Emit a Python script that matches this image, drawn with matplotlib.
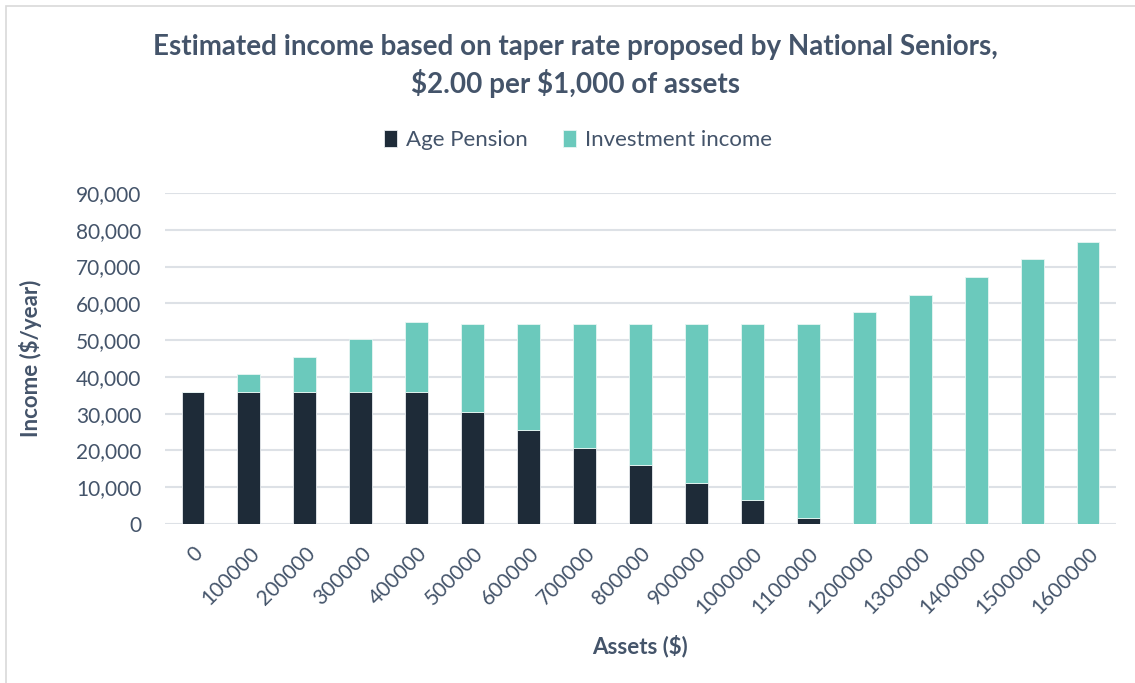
import matplotlib.pyplot as plt
from matplotlib.patches import Rectangle

plt.rcParams['font.family'] = ['Lato', 'DejaVu Sans']

assets = ['0', '100000', '200000', '300000', '400000', '500000', '600000', '700000',
          '800000', '900000', '1000000', '1100000', '1200000', '1300000', '1400000',
          '1500000', '1600000']
age_pension = [35850, 35850, 35850, 35850, 35850, 30400, 25600, 20800,
               16000, 11200, 6400, 1600, 0, 0, 0, 0, 0]
investment = [0, 4800, 9600, 14400, 19200, 24000, 28800, 33600,
              38400, 43200, 48000, 52800, 57600, 62400, 67200, 72000, 76800]
yticks = [0, 10000, 20000, 30000, 40000, 50000, 60000, 70000, 80000, 90000]

txt = '#44546A'
navy = '#1E2B38'
teal = '#6BC9BC'

W, H = 1135, 683
fig = plt.figure(figsize=(W / 100, H / 100), dpi=100)
fig.patches.append(Rectangle((6 / W, -0.01), 1.02, 1 - 6 / H + 0.01, transform=fig.transFigure,
                             fill=False, edgecolor='#D9D9D9', linewidth=1.2))

ax = fig.add_axes([165 / W, 1 - 524 / H, (1116 - 165) / W, (524 - 193) / H])
x = range(len(assets))
ax.bar(x, age_pension, width=0.41, color=navy, edgecolor='#E8ECEF', linewidth=0.6,
       label='Age Pension', zorder=3)
ax.bar(x, investment, width=0.41, bottom=age_pension, color=teal, edgecolor='#E8F6F3',
       linewidth=0.6, label='Investment income', zorder=3)

ax.set_xlim(-0.5, len(assets) - 0.5)
ax.set_ylim(0, 90000)
ax.set_yticks(yticks)
ax.set_yticklabels([f'{v:,}' for v in yticks], fontsize=15, color=txt)
ax.set_xticks(list(x))
ax.set_xticklabels(assets, rotation=45, ha='right', va='top', rotation_mode='anchor',
                   fontsize=15, color=txt)
ax.tick_params(axis='both', length=0)
ax.tick_params(axis='y', pad=17)
ax.tick_params(axis='x', pad=14)
ax.grid(axis='y', color='#DDE1E6', linewidth=1.5, zorder=0)
for s in ax.spines.values():
    s.set_visible(False)

ax.set_ylabel('Income (\\$/year)', fontsize=16, fontweight='bold', color=txt)
ax.yaxis.set_label_coords((42 - 165) / (1116 - 165), 0.5)
fig.text(640 / W, 1 - 646 / H, 'Assets (\\$)', fontsize=16, fontweight='bold', color=txt,
         ha='center', va='center')

fig.text(575 / W, 1 - 47 / H, 'Estimated income based on taper rate proposed by National Seniors,',
         fontsize=20, fontweight='bold', color=txt, ha='center', va='center')
fig.text(575 / W, 1 - 83 / H, '\\$2.00 per \\$1,000 of assets',
         fontsize=20, fontweight='bold', color=txt, ha='center', va='center')

fig.legend(loc='center', bbox_to_anchor=(578 / W, 1 - 140 / H), ncol=2, frameon=False,
           fontsize=16, labelcolor=txt, handlelength=0.6, handleheight=0.85,
           handletextpad=0.4, columnspacing=1.6)

fig.savefig('out.png', dpi=100, facecolor='white')
